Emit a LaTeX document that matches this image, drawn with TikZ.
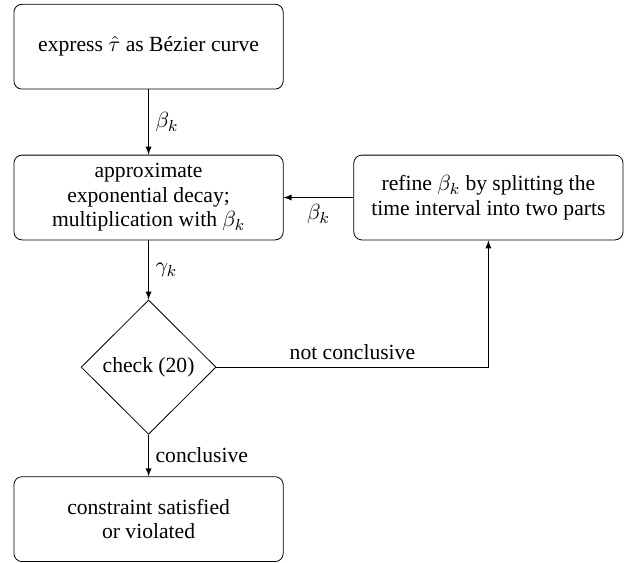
\documentclass[tikz,border=0pt]{standalone}
\usepackage{fontspec}
\setmainfont{Liberation Serif}
\usetikzlibrary{shapes.geometric}
\begin{document}
\begin{tikzpicture}[
    font=\fontsize{10.8}{12.3}\selectfont,
    block/.style={draw,rounded corners,align=center,minimum width=4.73cm,minimum height=1.49cm,inner sep=2pt},
    decision/.style={draw,diamond,inner sep=0pt,minimum width=2.37cm,minimum height=2.36cm},
    every path/.style={-latex}]
    \useasboundingbox (0,0) rectangle (11.05,9.88);
    \node[block] (bezier) at (2.61, 9.06) {express $\hat{\tau}$ as B\'ezier curve};
    \node[block] (approx) at (2.61, 6.41) {approximate\\exponential decay;\\multiplication with $\beta_k$};
    \node[block] (refine) at (8.58, 6.41) {refine $\beta_k$ by splitting the\\time interval into two parts};
    \node[decision] (check) at (2.61, 3.43) {check (20)};
    \node[block] (result) at (2.61, 0.76) {constraint satisfied\\or violated};
    \draw (bezier) -- node[right] {$\beta_k$} (approx);
    \draw (approx) -- node[right] {$\gamma_k$} (check);
    \draw (refine) -- node[below] {$\beta_k$} (approx);
    \draw (check) -- node[right] {conclusive} (result);
    \draw (check.east) -| node[pos=0.25,above] {not conclusive} (refine.south);
\end{tikzpicture}
\end{document}
